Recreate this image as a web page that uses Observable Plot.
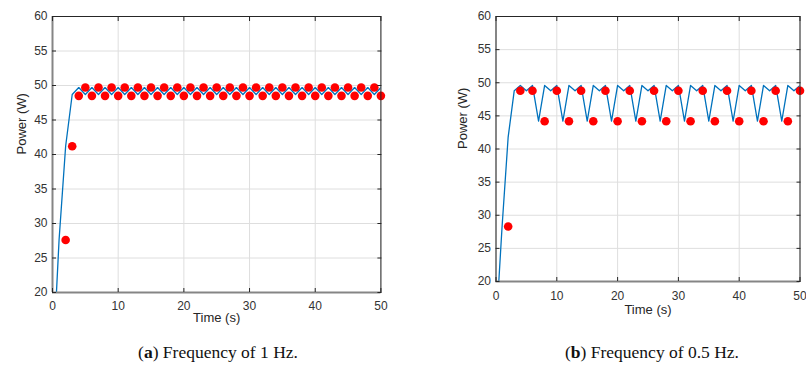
<!DOCTYPE html>
<html><head><meta charset="utf-8">
<script src="https://cdn.jsdelivr.net/npm/d3@7"></script>
<script src="https://cdn.jsdelivr.net/npm/@observablehq/plot@0.6"></script>
<style>
html,body{margin:0;padding:0;background:#fff;}
#wrap{position:relative;width:806px;height:374px;overflow:hidden;background:#fff;}
.panel{position:absolute;top:0;}
.cap{position:absolute;font-family:"Liberation Serif","DejaVu Serif",serif;font-size:17.5px;color:#111;white-space:nowrap;transform:translateX(-50%);line-height:20px;}
</style></head><body>
<div id="wrap"></div>
<script>
// ---- data ----
const xTicks = [0, 10, 20, 30, 40, 50];
const yTicks = [20, 25, 30, 35, 40, 45, 50, 55, 60];
const xDomain = [0, 50];
const yDomain = [20, 60];

// (a) 1 Hz: simulated power (line) and sampled points (dots)
const timeA = [0,1,2,3,4,5,6,7,8,9,10,11,12,13,14,15,16,17,18,19,20,21,22,23,24,25,26,27,28,29,30,31,32,33,34,35,36,37,38,39,40,41,42,43,44,45,46,47,48,49,50];
const lineA = [8.6,27.6,41.2,48.7,49.7,48.7,49.7,48.7,49.7,48.7,49.7,48.7,49.7,48.7,49.7,48.7,49.7,48.7,49.7,48.7,49.7,48.7,49.7,48.7,49.7,48.7,49.7,48.7,49.7,48.7,49.7,48.7,49.7,48.7,49.7,48.7,49.7,48.7,49.7,48.7,49.7,48.7,49.7,48.7,49.7,48.7,49.7,48.7,49.7,48.7,49.7];
const dotTimeA = [2,3,4,5,6,7,8,9,10,11,12,13,14,15,16,17,18,19,20,21,22,23,24,25,26,27,28,29,30,31,32,33,34,35,36,37,38,39,40,41,42,43,44,45,46,47,48,49,50];
const dotA = [27.6,41.2,48.5,49.7,48.5,49.7,48.5,49.7,48.5,49.7,48.5,49.7,48.5,49.7,48.5,49.7,48.5,49.7,48.5,49.7,48.5,49.7,48.5,49.7,48.5,49.7,48.5,49.7,48.5,49.7,48.5,49.7,48.5,49.7,48.5,49.7,48.5,49.7,48.5,49.7,48.5,49.7,48.5,49.7,48.5,49.7,48.5,49.7,48.5];

// (b) 0.5 Hz
const timeB = [0,1,2,3,4,5,6,7,8,9,10,11,12,13,14,15,16,17,18,19,20,21,22,23,24,25,26,27,28,29,30,31,32,33,34,35,36,37,38,39,40,41,42,43,44,45,46,47,48,49,50];
const lineB = [12.9,28.3,41.8,48.8,49.6,48.8,49.6,44.2,49.6,48.8,49.6,44.2,49.6,48.8,49.6,44.2,49.6,48.8,49.6,44.2,49.6,48.8,49.6,44.2,49.6,48.8,49.6,44.2,49.6,48.8,49.6,44.2,49.6,48.8,49.6,44.2,49.6,48.8,49.6,44.2,49.6,48.8,49.6,44.2,49.6,48.8,49.6,44.2,49.6,48.8,49.6];
const dotTimeB = [2,4,6,8,10,12,14,16,18,20,22,24,26,28,30,32,34,36,38,40,42,44,46,48,50];
const dotB = [28.3,48.8,48.8,44.2,48.8,44.2,48.8,44.2,48.8,44.2,48.8,44.2,48.8,44.2,48.8,44.2,48.8,44.2,48.8,44.2,48.8,44.2,48.8,44.2,48.8];

const xLabel = "Time (s)";
const yLabel = "Power (W)";
const captions = [["a", ") Frequency of 1 Hz."], ["b", ") Frequency of 0.5 Hz."]];

// ---- drawing ----
function panel(o) {
  const lineData = o.lineT.map((t, i) => ({t, p: o.lineP[i]}));
  const dotData = o.dotT.map((t, i) => ({t, p: o.dotP[i]}));
  const blank = () => "";
  return Plot.plot({
    width: o.width, height: o.height,
    marginLeft: o.ml, marginRight: o.mr, marginTop: o.mt, marginBottom: o.mb,
    x: {domain: xDomain}, y: {domain: yDomain},
    style: {fontFamily: "'Liberation Sans', Arial, sans-serif", fontSize: "12px", color: "#333", background: "transparent", overflow: "visible"},
    marks: [
      Plot.gridX(xTicks, {stroke: "#dedede", strokeOpacity: 1}),
      Plot.gridY(yTicks, {stroke: "#dedede", strokeOpacity: 1}),
      Plot.line(lineData, {x: "t", y: "p", stroke: "#0072BD", strokeWidth: 1.3, clip: true}),
      Plot.dot(dotData, {x: "t", y: "p", r: 4.3, fill: "#ff0000", stroke: "none"}),
      Plot.frame({stroke: "#262626", strokeWidth: 1}),
      Plot.ruleX([xDomain[0]], {stroke: "#858585", strokeWidth: 2}),
      Plot.ruleY([yDomain[0]], {stroke: "#858585", strokeWidth: 2}),
      Plot.axisX(xTicks, {anchor: "bottom", tickSize: 0, tickPadding: o.xPad, label: null, fill: "#333", fontSize: 12}),
      Plot.axisY(yTicks, {anchor: "left", tickSize: 0, tickPadding: 5, label: null, fill: "#333", fontSize: 12}),
      Plot.axisX(xTicks, {anchor: "bottom", tickSize: -4, tickFormat: blank, label: null, stroke: "#262626"}),
      Plot.axisX(xTicks, {anchor: "top", tickSize: -4, tickFormat: blank, label: null, stroke: "#262626"}),
      Plot.axisY(yTicks, {anchor: "left", tickSize: -4, tickFormat: blank, label: null, stroke: "#262626"}),
      Plot.axisY(yTicks, {anchor: "right", tickSize: -4, tickFormat: blank, label: null, stroke: "#262626"}),
      Plot.text([xLabel], {text: d => d, frameAnchor: "bottom", dy: o.xLabelDy, fontSize: 13, fill: "#262626"}),
      Plot.text([yLabel], {text: d => d, frameAnchor: "left", dx: o.yLabelDx, rotate: -90, fontSize: 13, fill: "#262626"})
    ]
  });
}

const wrap = document.getElementById("wrap");
const pa = panel({lineT: timeA, lineP: lineA, dotT: dotTimeA, dotP: dotA,
  width: 395, height: 332, ml: 52, mr: 14.6, mt: 16, mb: 40, xPad: 9, xLabelDy: 29, yLabelDx: -30.5});
pa.classList.add("panel"); pa.style.left = "0px";
wrap.appendChild(pa);
const pb = panel({lineT: timeB, lineP: lineB, dotT: dotTimeB, dotP: dotB,
  width: 366, height: 321, ml: 55.5, mr: 6.5, mt: 16, mb: 40, xPad: 9.5, xLabelDy: 32, yLabelDx: -33.5});
pb.classList.add("panel"); pb.style.left = "440px";
wrap.appendChild(pb);

const capX = [218, 652];
captions.forEach(([letter, rest], i) => {
  const d = document.createElement("div");
  d.className = "cap";
  d.style.left = capX[i] + "px";
  d.style.top = "342px";
  d.append("(");
  const b = document.createElement("b"); b.textContent = letter; d.append(b);
  d.append(rest);
  wrap.appendChild(d);
});
</script>
</body></html>
